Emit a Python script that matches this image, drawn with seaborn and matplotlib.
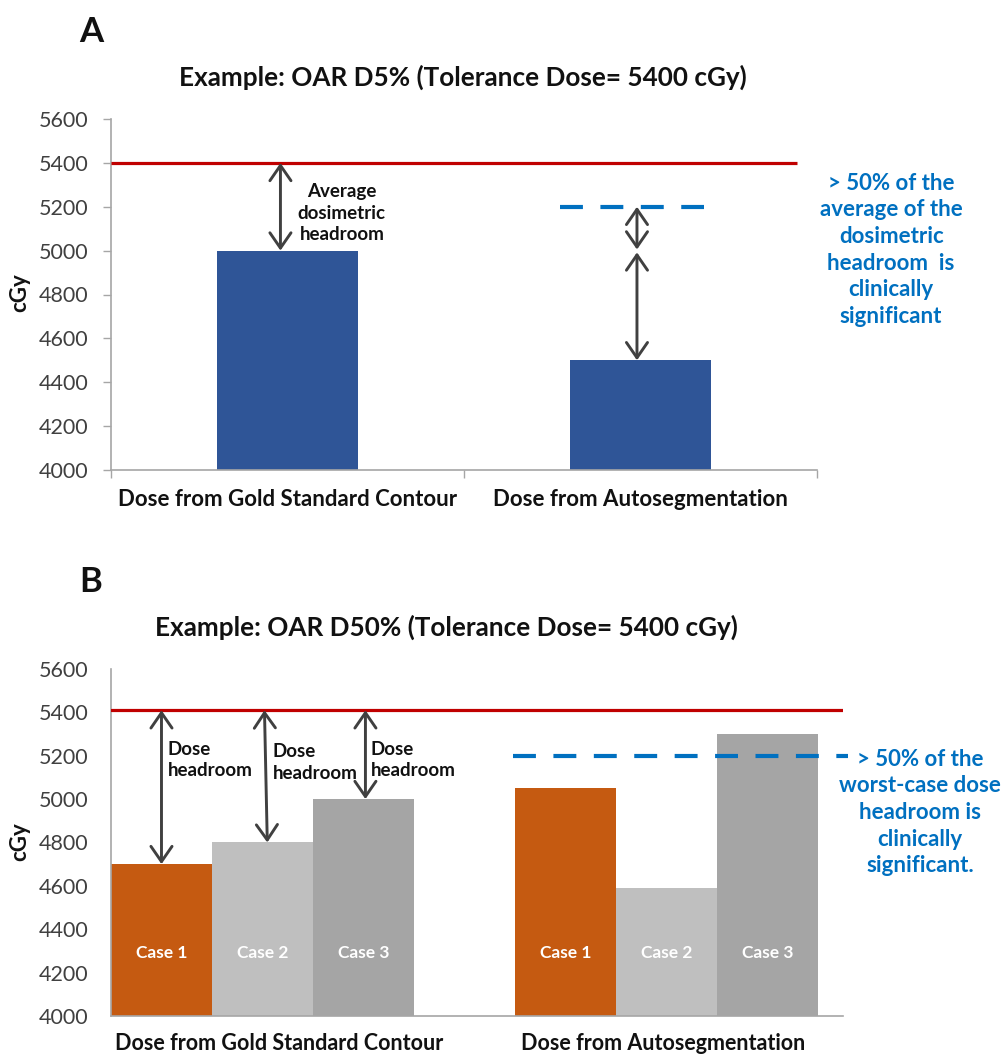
import matplotlib
matplotlib.use("Agg")
import matplotlib.pyplot as plt
import matplotlib.transforms as mtransforms
import seaborn as sns
import pandas as pd

# ---------------- data ----------------
categories = ["Dose from Gold Standard Contour", "Dose from Autosegmentation"]
dose_a = [5000, 4500]                 # panel A (D5%)
tolerance_a = 5400
threshold_a = 5200                    # >50% of average headroom

cases = ["Case 1", "Case 2", "Case 3"]
dose_b_gold = [4700, 4800, 5000]      # panel B (D50%)
dose_b_auto = [5050, 4590, 5300]
tolerance_b = 5410
threshold_b = 5200

yticks = [4000, 4200, 4400, 4600, 4800, 5000, 5200, 5400, 5600]

title_a = "Example: OAR D5% (Tolerance Dose= 5400 cGy)"
title_b = "Example: OAR D50% (Tolerance Dose= 5400 cGy)"
note_a = "> 50% of the\naverage of the\ndosimetric\nheadroom  is\nclinically\nsignificant"
note_b = "> 50% of the\nworst-case dose\nheadroom is\nclinically\nsignificant."

# ---------------- style ----------------
sns.set_theme(style="white")
plt.rcParams["font.family"] = ["Lato", "DejaVu Sans"]

NAVY = "#2F5597"
ORANGE = "#C55A11"
LGRAY = "#BFBFBF"
MGRAY = "#A5A5A5"
RED = "#C00000"
BLUE = "#0070C0"
ARROW = "#404040"
SPINE = "#A6A6A6"
TICKTXT = "#404040"
DARK = "#111111"

W, H = 1008, 1056
fig = plt.figure(figsize=(W / 100, H / 100), dpi=100)

ax1 = fig.add_axes([111 / W, 1 - 470 / H, 706 / W, 351 / H])
ax2 = fig.add_axes([111 / W, 1 - 1016 / H, 732 / W, 347 / H])

arrow_kw = dict(arrowstyle="<->,head_length=0.55,head_width=0.38",
                color=ARROW, lw=2.1, shrinkA=0, shrinkB=0, mutation_scale=20)

# ---------------- panel A ----------------
df_a = pd.DataFrame({"cat": categories, "dose": dose_a})
sns.barplot(data=df_a, x="cat", y="dose", color=NAVY, saturation=1,
            width=0.4, linewidth=0, ax=ax1)
ax1.set_xlim(-0.5, 1.5)
ax1.set_ylim(4000, 5600)
ax1.set_yticks(yticks)
ax1.set_yticklabels([str(t) for t in yticks], fontsize=15.5, color=TICKTXT)
ax1.set_xticks([0, 1])
ax1.set_xticklabels(categories, fontsize=16, fontweight="bold", color=DARK)
ax1.set_xticks([-0.5, 0.5, 1.5], minor=True)
ax1.tick_params(axis="x", which="major", length=0, pad=13.5)
ax1.tick_params(axis="x", which="minor", length=6, width=1, color=SPINE,
                direction="out", bottom=True)
ax1.tick_params(axis="y", length=6, width=1, color=SPINE, direction="out",
                left=True, pad=10)
ax1.set_xlabel("")
ax1.set_ylabel("")
for s in ["top", "right"]:
    ax1.spines[s].set_visible(False)
for s in ["left", "bottom"]:
    ax1.spines[s].set_color(SPINE)
    ax1.spines[s].set_linewidth(1.2)

ax1.plot([-0.5, 1.443], [tolerance_a, tolerance_a], color=RED, lw=2.3,
         solid_capstyle="butt", clip_on=False, zorder=3)
ax1.plot([0.772, 1.18], [threshold_a, threshold_a], color=BLUE, lw=3,
         linestyle=(0, (5.5, 4.2)), zorder=3)

ax1.annotate("", xy=(-0.02, tolerance_a), xytext=(-0.02, dose_a[0]),
             arrowprops=arrow_kw, zorder=4)
ax1.annotate("", xy=(0.99, threshold_a), xytext=(0.99, 5005),
             arrowprops=arrow_kw, zorder=4)
ax1.annotate("", xy=(0.99, 4992), xytext=(0.99, dose_a[1]),
             arrowprops=arrow_kw, zorder=4)

ax1.text(0.154, 5171, "Average\ndosimetric\nheadroom", ha="center", va="center",
         fontsize=13.5, fontweight="bold", color=DARK, linespacing=1.34)
ax1.text(1.71, 5004, note_a, ha="center", va="center", fontsize=16,
         fontweight="bold", color=BLUE, linespacing=1.33, clip_on=False)

# ---------------- panel B ----------------
groups = []
case_col = []
vals = []
for c, v in zip(cases, dose_b_gold):
    groups.append(categories[0]); case_col.append(c); vals.append(v)
for c, v in zip(cases, dose_b_auto):
    groups.append(categories[1]); case_col.append(c); vals.append(v)
df_b = pd.DataFrame({"group": groups, "case": case_col, "dose": vals})

sns.barplot(data=df_b, x="group", y="dose", hue="case",
            palette=[ORANGE, LGRAY, MGRAY], saturation=1, width=0.75,
            linewidth=0, legend=False, ax=ax2)
ax2.set_xlim(-0.375, 1.4375)
ax2.set_ylim(4000, 5600)
ax2.set_yticks(yticks)
ax2.set_yticklabels([str(t) for t in yticks], fontsize=15.5, color=TICKTXT)
ax2.set_xticks([0, 1])
ax2.set_xticklabels(categories, fontsize=15.5, fontweight="bold", color=DARK)
ax2.tick_params(axis="x", length=0, pad=12.5)
ax2.tick_params(axis="y", length=0, pad=16.5)
ax2.set_xlabel("")
ax2.set_ylabel("")
for s in ["top", "right"]:
    ax2.spines[s].set_visible(False)
for s in ["left", "bottom"]:
    ax2.spines[s].set_color(SPINE)
    ax2.spines[s].set_linewidth(1.2)

# first group label sits slightly right of its tick in the reference
lbl0 = ax2.get_xticklabels()[0]
lbl0.set_transform(lbl0.get_transform() +
                   mtransforms.ScaledTranslation(0.17, 0, fig.dpi_scale_trans))
lbl1 = ax2.get_xticklabels()[1]
lbl1.set_transform(lbl1.get_transform() +
                   mtransforms.ScaledTranslation(-0.03, 0, fig.dpi_scale_trans))

ax2.axhline(tolerance_b, color=RED, lw=2.3, zorder=3)
ax2.plot([0.62, 1.45], [threshold_b, threshold_b], color=BLUE, lw=3,
         linestyle=(0, (5.5, 4.2)), zorder=3, clip_on=False)

offsets = [-0.25, 0.0, 0.25]
arrow_x_top = [-0.25, 0.005, 0.255]
arrow_x_bot = [-0.25, 0.012, 0.255]
for xt, xb, v in zip(arrow_x_top, arrow_x_bot, dose_b_gold):
    ax2.annotate("", xy=(xt, tolerance_b), xytext=(xb, v),
                 arrowprops=arrow_kw, zorder=4)

label_pos = [(-0.235, 5180), (0.025, 5168), (0.268, 5180)]
for (lx, ly) in label_pos:
    ax2.text(lx, ly, "Dose\nheadroom", ha="left", va="center", fontsize=13.5,
             fontweight="bold", color=DARK, linespacing=1.34)

for gi in range(2):
    for off, c in zip(offsets, cases):
        ax2.text(gi + off, 4290, c, ha="center", va="center", fontsize=12.5,
                 fontweight="bold", color="white")

ax2.text(1.628, 4938, note_b, ha="center", va="center", fontsize=16,
         fontweight="bold", color=BLUE, linespacing=1.33, clip_on=False)

# ---------------- titles, panel letters, y labels ----------------
fig.text(463 / W, 1 - 77 / H, title_a, ha="center", va="center",
         fontsize=18.8, fontweight="bold", color=DARK)
fig.text(446 / W, 1 - 627 / H, title_b, ha="center", va="center",
         fontsize=18.8, fontweight="bold", color=DARK)
fig.text(91 / W, 1 - 32 / H, "A", ha="center", va="center",
         fontsize=25, fontweight="bold", color=DARK)
fig.text(91 / W, 1 - 582 / H, "B", ha="center", va="center",
         fontsize=25, fontweight="bold", color=DARK)
fig.text(20 / W, 1 - 293 / H, "cGy", ha="center", va="center", rotation=90,
         fontsize=16, fontweight="bold", color=DARK)
fig.text(20 / W, 1 - 842 / H, "cGy", ha="center", va="center", rotation=90,
         fontsize=16, fontweight="bold", color=DARK)

fig.savefig("out.png", dpi=100, facecolor="white")
